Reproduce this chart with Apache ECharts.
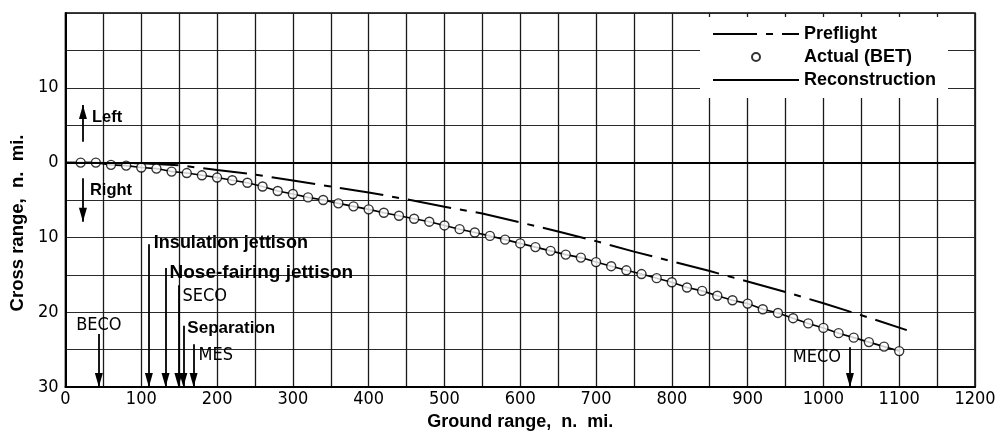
<!DOCTYPE html>
<html>
<head>
<meta charset="utf-8">
<script src="https://cdn.jsdelivr.net/npm/echarts@6/dist/echarts.min.js"></script>
<style>
  html, body { margin: 0; padding: 0; background: #fff; }
  #chart { width: 1000px; height: 440px; }
</style>
</head>
<body>
<div id="chart"></div>
<script>
// ---- data ----
const xTicks = [0, 100, 200, 300, 400, 500, 600, 700, 800, 900, 1000, 1100, 1200];
const yTickLabels = ['', '10', '0', '10', '20', '30']; // at -20,-10,0,10,20,30 (negative = Left)

const preflightRange = [0, 100, 150, 200, 250, 300, 350, 400, 450, 500, 550, 600, 650, 700, 750, 800, 850, 900, 950, 1000, 1050, 1110];
const preflightCross = [0, 0.1, 0.35, 1.0, 1.6, 2.4, 3.2, 4.0, 4.9, 5.9, 6.8, 8.0, 9.2, 10.5, 11.9, 13.2, 14.5, 15.9, 17.3, 18.8, 20.4, 22.4];

const actualRange = [20, 40, 60, 80, 100, 120, 140, 160, 180, 200, 220, 240, 260, 280, 300, 320, 340, 360, 380, 400,
  420, 440, 460, 480, 500, 520, 540, 560, 580, 600, 620, 640, 660, 680, 700, 720, 740, 760, 780, 800,
  820, 840, 860, 880, 900, 920, 940, 960, 980, 1000, 1020, 1040, 1060, 1080, 1100];
const actualCross = [0.0, 0.0, 0.3, 0.4, 0.65, 0.8, 1.2, 1.4, 1.7, 2.0, 2.35, 2.7, 3.2, 3.8, 4.2, 4.65, 5.0, 5.45, 5.85, 6.25,
  6.7, 7.1, 7.5, 7.9, 8.4, 8.9, 9.35, 9.8, 10.3, 10.8, 11.3, 11.8, 12.3, 12.7, 13.3, 13.85, 14.4, 14.9, 15.45, 16.0,
  16.7, 17.15, 17.8, 18.4, 18.85, 19.6, 20.1, 20.8, 21.5, 22.1, 22.8, 23.4, 24.0, 24.6, 25.2];

// reconstruction passes through the BET points
const reconstructionRange = actualRange;
const reconstructionCross = actualCross;

// event / direction annotations (data units)
const noteNames = ['Left', 'Right', 'BECO', 'Insulation jettison', 'Nose-fairing jettison', 'SECO', 'Separation', 'MES', 'MECO'];
const noteArrowX = [23, 23, 44, 110, 132, 149, 155.5, 169, 1035];
const noteArrowFrom = [-2.8, 2.1, 22.9, 10.9, 14.1, 16.4, 21.8, 24.3, 24.7];
const noteArrowTo = [-7.7, 7.9, 30, 30, 30, 30, 30, 30, 30];
const noteLabelY = [-6.1, 3.7, 21.7, 10.75, 14.7, 17.9, 22.1, 25.7, 26.1];

// ---- styling ----
const NARROW = "'Liberation Sans Narrow', 'DejaVu Sans Condensed', sans-serif";
const REGULAR = "'Liberation Sans', Arial, sans-serif";
const noteStyle = {
  'Left': { position: 'right', distance: 9, font: REGULAR, size: 16.5, weight: 'bold' },
  'Right': { position: 'right', distance: 7, font: REGULAR, size: 16.5, weight: 'bold' },
  'BECO': { position: 'inside', distance: 0, font: NARROW, size: 18, weight: 'normal' },
  'Insulation jettison': { position: 'right', distance: 5, font: REGULAR, size: 18, weight: 'bold' },
  'Nose-fairing jettison': { position: 'right', distance: 4, font: REGULAR, size: 19, weight: 'bold' },
  'SECO': { position: 'right', distance: 4, font: NARROW, size: 18, weight: 'normal' },
  'Separation': { position: 'right', distance: 4, font: REGULAR, size: 17, weight: 'bold' },
  'MES': { position: 'right', distance: 5, font: NARROW, size: 18, weight: 'normal' },
  'MECO': { position: 'left', distance: 9, font: NARROW, size: 18, weight: 'normal' }
};
const arrowHead = { symbol: 'triangle', symbolSize: [8, 14], symbolOffset: [0, 7] };

const zip = (a, b) => a.map((v, i) => [v, b[i]]);

const gridLine = { color: '#1a1a1a', width: 1.3 };

const chart = echarts.init(document.getElementById('chart'), null, { renderer: 'canvas' });
chart.setOption({
  animation: false,
  backgroundColor: '#fff',
  grid: { left: 62, right: 25, top: 13, bottom: 53, show: true, borderColor: '#000', borderWidth: 1.5, backgroundColor: 'transparent' },
  legend: {
    data: [
      { name: 'Preflight', itemStyle: { opacity: 0 } },
      { name: 'Actual (BET)' },
      { name: 'Reconstruction', itemStyle: { opacity: 0 } }
    ],
    orient: 'vertical', left: 700, top: 17,
    itemWidth: 86, itemHeight: 8, itemGap: 3,
    padding: [7, 12, 8, 12],
    backgroundColor: '#fff',
    selectedMode: false,
    textStyle: { fontFamily: REGULAR, fontSize: 18, fontWeight: 'bold', color: '#000', lineHeight: 20 }
  },
  xAxis: {
    type: 'value', min: xTicks[0], max: xTicks[xTicks.length - 1], interval: 100,
    name: 'Ground range,  n.  mi.', nameLocation: 'middle', nameGap: 24,
    nameTextStyle: { fontFamily: REGULAR, fontSize: 18, fontWeight: 'bold', color: '#000' },
    axisLine: { onZero: false, lineStyle: { color: '#000', width: 2 } },
    axisTick: { show: false },
    axisLabel: { margin: 3, color: '#000', fontFamily: NARROW, fontSize: 18, formatter: v => String(v) },
    splitLine: { show: true, lineStyle: gridLine },
    minorTick: { show: false, splitNumber: 2 },
    minorSplitLine: { show: true, lineStyle: gridLine }
  },
  yAxis: {
    type: 'value', inverse: true, min: -20, max: 30, interval: 10,
    name: 'Cross range,  n.  mi.', nameLocation: 'middle', nameGap: 34,
    nameTextStyle: { fontFamily: REGULAR, fontSize: 18.5, fontWeight: 'bold', color: '#000', padding: [0, 46, 0, 0] },
    axisLine: { onZero: false, lineStyle: { color: '#000', width: 2 } },
    axisTick: { show: false },
    axisLabel: { margin: 7, color: '#000', fontFamily: NARROW, fontSize: 18,
      formatter: v => yTickLabels[Math.round((v + 20) / 10)] },
    splitLine: { show: true, lineStyle: { color: '#2a2a2a', width: 1.2 } },
    minorTick: { show: false, splitNumber: 2 },
    minorSplitLine: { show: true, lineStyle: { color: '#2a2a2a', width: 1.2 } }
  },
  series: [
    {
      name: 'Preflight', type: 'line', data: zip(preflightRange, preflightCross),
      symbol: 'none', z: 3,
      itemStyle: { color: '#000' },
      lineStyle: { color: '#000', width: 2, type: [44, 9, 7, 9] },
      markLine: {
        silent: true, symbol: 'none', label: { show: false },
        lineStyle: { color: '#000', width: 2.2, type: 'solid' },
        emphasis: { disabled: true },
        data: [{ yAxis: 0 }]
      }
    },
    {
      name: 'Reconstruction', type: 'line', data: zip(reconstructionRange, reconstructionCross),
      symbol: 'none', z: 3,
      itemStyle: { color: '#000' },
      lineStyle: { color: '#000', width: 1.6 }
    },
    {
      name: 'Actual (BET)', type: 'scatter', data: zip(actualRange, actualCross),
      symbol: 'circle', symbolSize: 9, z: 4,
      itemStyle: { color: '#fff', borderColor: '#000', borderWidth: 1.4 }
    },
    {
      name: 'notes', type: 'scatter', symbolSize: 0, z: 5, silent: true,
      itemStyle: { color: '#000', opacity: 1 },
      data: noteNames.map((n, i) => {
        const s = noteStyle[n];
        return {
          name: n, value: [noteArrowX[i], noteLabelY[i]],
          label: { show: true, formatter: n, position: s.position, distance: s.distance,
            fontFamily: s.font, fontSize: s.size, fontWeight: s.weight, color: '#000',
            opacity: 1, textBorderWidth: 0, textShadowBlur: 0 }
        };
      }),
      markLine: {
        silent: true, animation: false,
        symbol: ['none', 'triangle'],
        symbolSize: 12,
        label: { show: false },
        emphasis: { disabled: true },
        lineStyle: { color: '#000', width: 1.8, type: 'solid' },
        itemStyle: { color: '#000' },
        data: noteNames.map((n, i) => [
          { coord: [noteArrowX[i], noteArrowFrom[i]] },
          Object.assign({ coord: [noteArrowX[i], noteArrowTo[i]] }, arrowHead)
        ])
      }
    }
  ]
});
</script>
</body>
</html>
